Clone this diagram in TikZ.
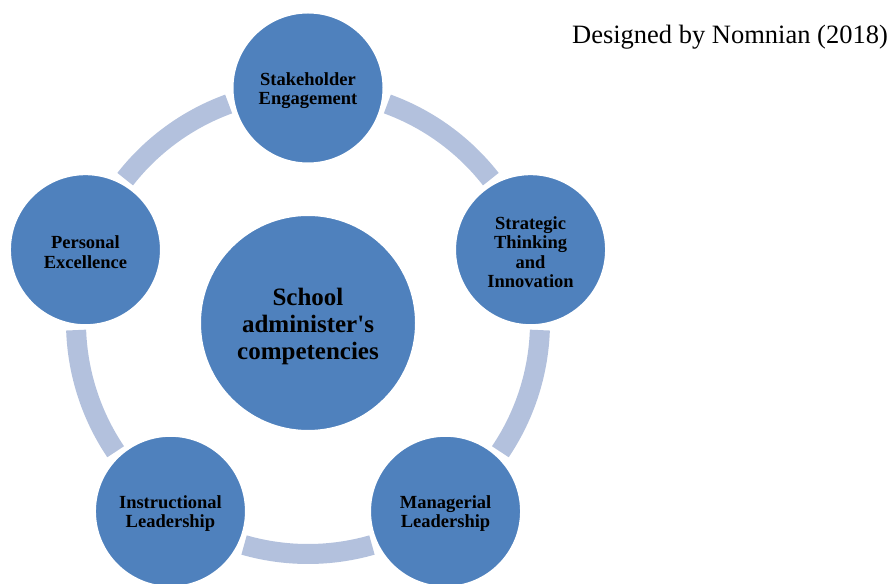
\documentclass[tikz,border=0pt]{standalone}
\usepackage{fontspec}
\setmainfont{Liberation Serif}
\definecolor{cblue}{HTML}{4F81BD}
\definecolor{carc}{HTML}{B3C1DD}
\begin{document}
\begin{tikzpicture}[x=1pt,y=1pt,
  outer/.style={circle, fill=cblue, draw=white, line width=2pt, minimum size=151pt, inner sep=0pt},
  outertext/.style={align=center, inner sep=0pt, yshift=-2.5pt, font=\bfseries\fontsize{18.5}{19.4}\selectfont},
  hub/.style={circle, fill=cblue, draw=white, line width=2pt, minimum size=216pt, inner sep=0pt},
  hubtext/.style={align=center, inner sep=0pt, yshift=-3pt, font=\bfseries\fontsize{25}{27}\selectfont},
  ring/.style={draw=carc, line width=20pt, line cap=butt}]
\useasboundingbox (0,0) rectangle (893,583);
\clip (0,0) rectangle (893,583);
\coordinate (ctr) at (308,261);
\draw[ring] ([shift={(70:232)}]ctr) arc[start angle=70, end angle=38, radius=232];
\draw[ring] ([shift={(-2:232)}]ctr) arc[start angle=-2, end angle=-34, radius=232];
\draw[ring] ([shift={(-74:232)}]ctr) arc[start angle=-74, end angle=-106, radius=232];
\draw[ring] ([shift={(-146:232)}]ctr) arc[start angle=-146, end angle=-178, radius=232];
\draw[ring] ([shift={(142:232)}]ctr) arc[start angle=142, end angle=110, radius=232];
\node[hub] (c) at (308,260) {};
\node[hubtext] (ct) at (c) {School\\administer\textquotesingle s\\competencies};
\node[outer] (t) at ([shift={(90:234)}]ctr) {};
\node[outertext] (tt) at (t) {Stakeholder\\Engagement};
\node[outer] (r) at ([shift={(18:234)}]ctr) {};
\node[outertext] (rt) at (r) {Strategic\\Thinking\\and\\Innovation};
\node[outer] (br) at ([shift={(-54:234)}]ctr) {};
\node[outertext] (brt) at (br) {Managerial\\Leadership};
\node[outer] (bl) at ([shift={(-126:234)}]ctr) {};
\node[outertext] (blt) at (bl) {Instructional\\Leadership};
\node[outer] (l) at ([shift={(162:234)}]ctr) {};
\node[outertext] (lt) at (l) {Personal\\Excellence};
\node[anchor=base, inner sep=0pt, font=\fontsize{26.5}{30}\selectfont] (credit) at (730,539) {Designed by Nomnian (2018)};
\end{tikzpicture}
\end{document}
